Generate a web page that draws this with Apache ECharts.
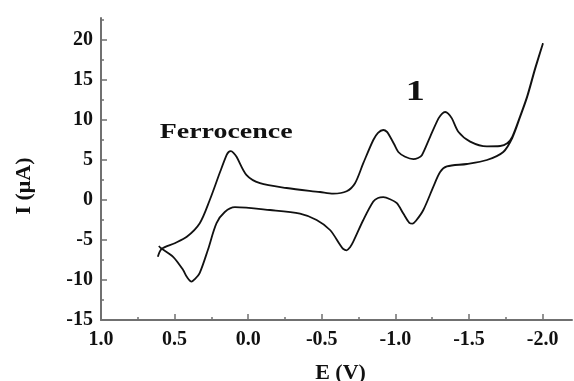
<!DOCTYPE html>
<html>
<head>
<meta charset="utf-8">
<script src="https://cdn.jsdelivr.net/npm/echarts@6/dist/echarts.min.js"></script>
<style>
html,body{margin:0;padding:0;background:#fff;}
#c{width:574px;height:381px;}
</style>
</head>
<body>
<div id="c"></div>
<script>
// Forward scan (upper branch), potential in V and current in µA
var forwardE = [0.614,0.587,0.499,0.417,0.329,0.261,0.193,0.147,0.133,0.118,0.100,0.079,0.011,-0.080,-0.261,-0.488,-0.578,-0.669,-0.726,-0.782,-0.850,-0.882,-0.918,-0.944,-0.964,-0.991,-1.020,-1.066,-1.122,-1.154,-1.180,-1.236,-1.293,-1.318,-1.338,-1.359,-1.384,-1.429,-1.508,-1.622,-1.712,-1.760,-1.794,-1.848,-1.896,-1.950,-2.003];
var forwardI = [-7.1,-6.1,-5.4,-4.6,-2.9,0.0,3.4,5.6,6.0,6.1,5.9,5.4,3.1,2.1,1.5,1.0,0.8,1.1,2.1,4.6,7.5,8.4,8.75,8.5,7.9,7.0,6.0,5.4,5.1,5.25,5.6,7.9,10.2,10.8,11.0,10.8,10.2,8.5,7.3,6.7,6.75,7.1,7.9,10.5,13.0,16.5,19.6];
// Reverse scan (lower branch)
var reverseE = [-1.950,-1.896,-1.848,-1.794,-1.733,-1.622,-1.486,-1.350,-1.304,-1.259,-1.190,-1.140,-1.117,-1.095,-1.054,-1.010,-0.964,-0.918,-0.882,-0.850,-0.782,-0.714,-0.692,-0.669,-0.644,-0.624,-0.556,-0.465,-0.352,-0.148,0.090,0.159,0.215,0.274,0.329,0.363,0.385,0.417,0.442,0.510,0.594,0.607];
var reverseI = [16.4,12.9,10.4,7.75,6.0,5.0,4.5,4.2,3.5,1.7,-1.25,-2.6,-2.95,-2.85,-1.7,-0.4,0.1,0.35,0.25,-0.2,-2.5,-5.2,-5.9,-6.3,-6.1,-5.6,-3.75,-2.5,-1.7,-1.25,-0.9,-1.5,-2.9,-6.25,-9.1,-9.9,-10.2,-9.6,-8.75,-7.1,-6.0,-5.75];

var xMajorTicks = [1.0,0.5,0.0,-0.5,-1.0,-1.5,-2.0];
var xMinorTicks = [0.75,0.25,-0.25,-0.75,-1.25,-1.75];
var yMajorTicks = [-15,-10,-5,0,5,10,15,20];
var yMinorTicks = [-12.5,-7.5,-2.5,2.5,7.5,12.5,17.5,22.5];

var annotations = [
  {text:'Ferrocence', value:[0.15, 8.4], size:22},
  {text:'1', value:[-1.135, 13.5], size:30}
];

var curve = [];
for (var i = 0; i < forwardE.length; i++) curve.push([forwardE[i], forwardI[i]]);
for (var j = 0; j < reverseE.length; j++) curve.push([reverseE[j], reverseI[j]]);

var axisColor = '#707070';
var labelFont = {fontFamily:'Liberation Serif', fontWeight:'bold', fontSize:20, color:'#111'};

var chart = echarts.init(document.getElementById('c'), null, {renderer:'canvas'});
var option = {
  animation:false,
  backgroundColor:'#fff',
  grid:{left:101, right:2, top:18, bottom:61, containLabel:false, outerBoundsMode:'none'},
  xAxis:[{
    type:'value', min:-2.2, max:1.0, inverse:true,
    axisLine:{show:true, onZero:false, lineStyle:{color:axisColor, width:2}},
    axisTick:{show:true, inside:true, length:6, customValues:xMajorTicks, lineStyle:{color:axisColor, width:1.5}},
    axisLabel:Object.assign({margin:10, customValues:xMajorTicks, formatter:function(v){return v.toFixed(1);}}, labelFont),
    splitLine:{show:false},
    name:'E (V)', nameLocation:'middle', nameGap:42,
    nameTextStyle:{fontFamily:'Liberation Serif', fontWeight:'bold', fontSize:22, color:'#111', padding:[0,0,0,8]}
  },{
    type:'value', min:-2.2, max:1.0, inverse:true, position:'bottom',
    axisLine:{show:false, onZero:false},
    axisTick:{show:true, inside:true, length:3, customValues:xMinorTicks, lineStyle:{color:axisColor, width:1.5}},
    axisLabel:{show:false}, splitLine:{show:false}
  }],
  yAxis:[{
    type:'value', min:-15, max:22.75,
    axisLine:{show:true, onZero:false, lineStyle:{color:axisColor, width:2}},
    axisTick:{show:true, inside:true, length:6, customValues:yMajorTicks, lineStyle:{color:axisColor, width:1.5}},
    axisLabel:Object.assign({margin:8, customValues:yMajorTicks}, labelFont),
    splitLine:{show:false},
    name:'I (μA)', nameLocation:'middle', nameGap:66, nameRotate:90,
    nameTextStyle:{fontFamily:'Liberation Serif', fontWeight:'bold', fontSize:22, color:'#111', padding:[0,34,0,0]}
  },{
    type:'value', min:-15, max:22.75, position:'left',
    axisLine:{show:false, onZero:false},
    axisTick:{show:true, inside:true, length:3, customValues:yMinorTicks, lineStyle:{color:axisColor, width:1.5}},
    axisLabel:{show:false}, splitLine:{show:false}
  }],
  series:[{
    type:'line', xAxisIndex:0, yAxisIndex:0,
    data:curve, showSymbol:false, smooth:0.3,
    lineStyle:{color:'#111', width:1.8}
  }]
};
chart.setOption(option);

// annotations placed at data positions via the chart's own coordinate conversion
var gfx = annotations.map(function(a){
  var p = chart.convertToPixel({xAxisIndex:0, yAxisIndex:0}, a.value);
  return {type:'text', x:p[0], y:p[1], scaleX:1.27,
    style:{text:a.text, fontFamily:'Liberation Serif', fontWeight:'bold', fontSize:a.size, fill:'#111', align:'center', verticalAlign:'middle'}};
});
chart.setOption({graphic:gfx});
</script>
</body>
</html>
